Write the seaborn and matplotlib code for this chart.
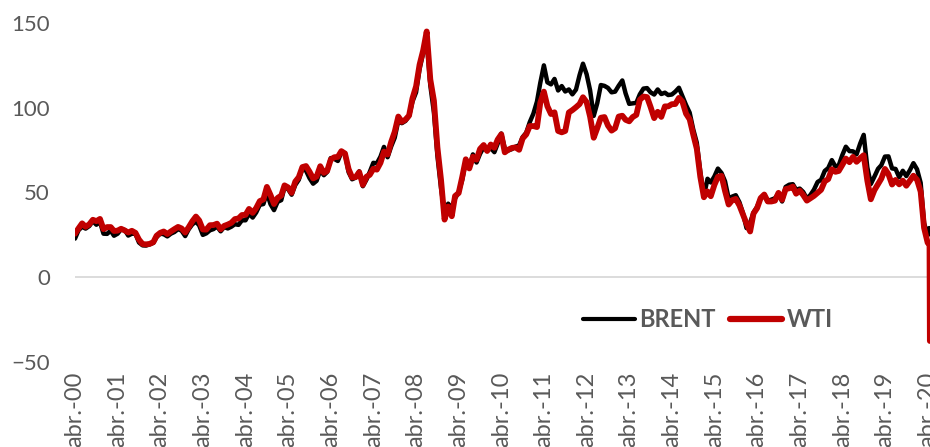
import pandas as pd
import seaborn as sns
import matplotlib.pyplot as plt

# monthly prices (USD/bbl), Apr-2000 .. Mar-2020, then a few April 2020 days
brent = [
    22.8, 27.7, 29.8, 28.7, 30.2, 33.1, 31.0, 32.6, 25.7,
    25.6, 27.5, 24.5, 25.7, 28.3, 27.9, 24.6, 25.7, 25.6, 20.5, 18.8, 18.7,
    19.4, 20.3, 23.7, 25.7, 25.4, 24.1, 25.7, 26.7, 28.4, 27.5, 24.3, 28.3,
    31.2, 32.8, 30.6, 25.0, 25.9, 27.7, 28.4, 29.9, 27.1, 29.6, 28.8, 29.8,
    31.3, 30.9, 33.6, 33.6, 37.6, 35.2, 38.2, 42.7, 43.2, 49.8, 43.1, 39.6,
    44.5, 45.5, 53.1, 51.9, 48.7, 54.4, 57.5, 64.0, 62.9, 58.5, 55.2, 56.9,
    63.0, 60.2, 62.1, 70.3, 69.8, 68.6, 73.7, 73.2, 62.0, 57.8, 58.8, 62.5,
    53.7, 57.6, 62.1, 67.5, 67.2, 71.1, 76.9, 70.8, 77.2, 82.3, 92.4, 90.9,
    92.2, 95.0, 103.6, 109.1, 122.8, 132.3, 140.0, 113.2, 97.2, 71.6, 52.5, 38.0,
    43.4, 41.0, 46.5, 50.2, 57.3, 68.6, 64.4, 72.5, 67.7, 72.8, 76.7, 74.5,
    76.2, 73.8, 78.8, 84.8, 76.0, 74.8, 75.6, 77.0, 77.8, 82.7, 85.3, 91.5,
    96.5, 103.7, 114.6, 125.0, 115.0, 113.8, 117.0, 110.2, 112.8, 109.6, 110.8, 107.9,
    110.7, 119.3, 126.0, 119.8, 110.3, 95.2, 102.6, 113.4, 112.9, 111.7, 109.1, 109.5,
    113.0, 116.1, 108.5, 102.3, 102.6, 102.9, 107.9, 111.3, 111.6, 109.1, 107.8, 110.8,
    108.1, 108.9, 107.5, 107.8, 109.5, 111.8, 106.8, 101.6, 97.1, 87.4, 79.4, 62.3,
    47.8, 58.1, 55.9, 59.5, 64.1, 61.5, 56.6, 46.5, 47.6, 48.4, 44.3, 38.0,
    29.0, 32.2, 38.2, 41.6, 46.7, 48.3, 45.0, 45.8, 46.6, 49.5, 44.7, 53.3,
    54.6, 54.9, 51.6, 52.3, 50.3, 46.4, 48.5, 51.7, 56.2, 57.5, 62.7, 64.4,
    69.1, 65.3, 66.0, 72.1, 77.0, 74.4, 74.3, 72.5, 78.9, 84.0, 64.8, 55.0,
    59.4, 64.0, 66.1, 71.2, 71.3, 64.2, 63.9, 59.0, 62.8, 59.7, 63.2, 67.3,
    63.7, 55.7, 32.0,
    24.7, 29.0, 28.0, 26.0,
]

wti = [
    25.7, 28.8, 31.8, 29.8, 31.2, 33.9, 33.1, 34.4, 28.4,
    29.6, 29.6, 27.3, 27.5, 28.6, 27.6, 26.4, 27.4, 26.2, 22.2, 19.6, 19.4,
    19.7, 20.7, 24.5, 26.2, 27.0, 25.5, 27.0, 28.4, 29.7, 28.8, 26.4, 29.5,
    33.0, 35.8, 33.5, 28.2, 28.1, 30.7, 30.8, 31.6, 28.3, 30.3, 31.1, 32.1,
    34.3, 34.7, 36.7, 36.8, 40.3, 38.0, 40.8, 44.9, 45.9, 53.3, 48.5, 43.2,
    46.8, 48.2, 54.2, 53.0, 49.8, 56.4, 59.0, 65.0, 65.6, 62.3, 58.3, 59.4,
    65.5, 61.6, 62.7, 69.4, 70.8, 71.0, 74.4, 73.0, 63.8, 58.9, 59.1, 62.0,
    54.5, 59.3, 60.4, 64.0, 63.5, 67.5, 74.1, 72.4, 79.9, 85.8, 94.8, 91.7,
    93.0, 95.4, 105.5, 112.6, 125.4, 133.9, 145.0, 116.7, 104.1, 76.6, 57.3, 34.0,
    41.7, 36.0, 47.9, 49.7, 59.0, 69.6, 64.2, 71.1, 69.4, 75.7, 78.0, 74.5,
    78.3, 76.4, 81.2, 84.3, 73.7, 75.3, 76.3, 76.6, 75.2, 81.9, 84.3, 89.2,
    89.2, 88.6, 102.9, 109.5, 100.9, 96.3, 97.3, 86.3, 85.5, 86.3, 97.2, 98.6,
    100.3, 102.2, 106.2, 103.3, 94.7, 82.3, 87.9, 94.1, 94.5, 89.5, 86.5, 87.9,
    94.8, 95.3, 92.9, 92.0, 94.5, 95.8, 104.7, 106.6, 106.3, 100.5, 93.9, 97.6,
    94.6, 100.8, 100.8, 102.1, 102.2, 105.8, 103.6, 96.5, 93.2, 84.4, 75.8, 59.3,
    47.2, 50.6, 47.8, 54.5, 59.3, 59.8, 50.9, 42.9, 45.5, 46.2, 42.4, 37.2,
    31.7, 27.0, 37.6, 40.8, 46.7, 48.8, 44.7, 44.7, 45.2, 49.8, 45.7, 52.0,
    52.5, 53.5, 49.3, 51.1, 48.5, 45.2, 46.6, 48.0, 49.8, 51.6, 56.6, 57.9,
    63.7, 62.2, 62.7, 66.3, 70.0, 67.9, 71.0, 68.1, 70.2, 72.0, 57.0, 46.0,
    51.4, 55.0, 58.2, 63.9, 60.8, 54.7, 57.4, 54.8, 57.0, 54.0, 57.0, 59.9,
    57.5, 50.5, 29.2,
    20.3, 20.1, 18.3, -37.6,
]

dates = list(pd.date_range("2000-04-01", "2020-03-01", freq="MS")) + \
    list(pd.to_datetime(["2020-04-01", "2020-04-14", "2020-04-17", "2020-04-20"]))

tick_years = list(range(2000, 2021))
tick_labels = ["abr.-%02d" % (y % 100) for y in tick_years]

df = pd.DataFrame({"fecha": dates, "BRENT": brent, "WTI": wti})

sns.set_theme(style="white")
plt.rcParams["font.family"] = ["Lato", "DejaVu Sans"]

fig = plt.figure(figsize=(9.3, 4.47), dpi=100)
ax = fig.add_axes([75 / 930, 85 / 447, 855 / 930, 339 / 447])

# gray zero line (Excel horizontal axis)
ax.axhline(0, color="#d9d9d9", lw=1.3, zorder=1)

sns.lineplot(data=df, x="fecha", y="BRENT", color="black", linewidth=3.2, label="BRENT", ax=ax)
sns.lineplot(data=df, x="fecha", y="WTI", color="#C00000", linewidth=4.2, label="WTI", ax=ax)

ax.set_ylim(-50, 150)
ax.set_yticks([-50, 0, 50, 100, 150])
ax.set_xlim(pd.Timestamp("2000-04-01"), pd.Timestamp("2020-04-21"))
ax.set_xticks([pd.Timestamp("%d-04-01" % y) for y in tick_years])
ax.set_xticklabels(tick_labels, rotation=90, va="top", ha="center")
ax.tick_params(axis="x", length=0, pad=7, labelsize=17, labelcolor="#595959")
ax.tick_params(axis="y", length=0, pad=18, labelsize=16, labelcolor="#595959")
ax.set_xlabel("")
ax.set_ylabel("")
for s in ax.spines.values():
    s.set_visible(False)

leg = ax.legend(loc="center", bbox_to_anchor=(0.74, 0.124), ncol=2, frameon=False,
                handlelength=2.2, handletextpad=0.2, columnspacing=0.6,
                prop={"weight": "bold", "size": 17})
for t in leg.get_texts():
    t.set_color("#595959")
for h, w in zip(leg.get_lines(), [3.0, 4.5]):
    h.set_linewidth(w)

fig.savefig("out.png", dpi=100)
